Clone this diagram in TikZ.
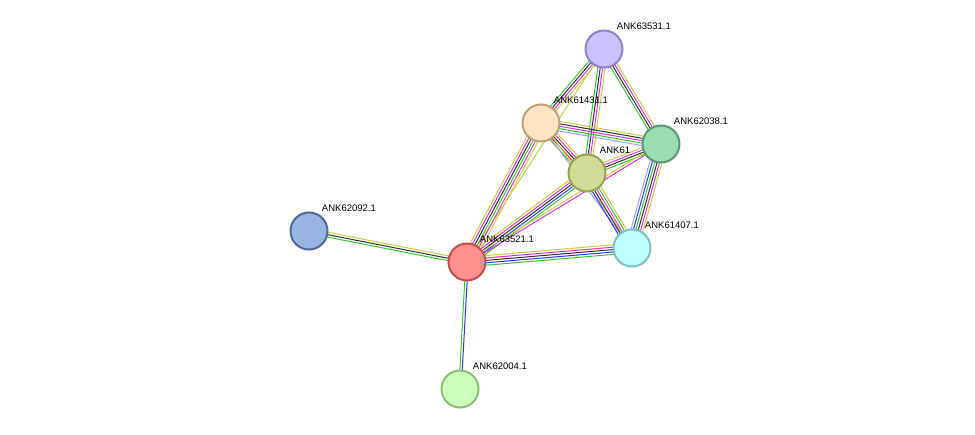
\documentclass[tikz,border=0pt]{standalone}
\usepackage{fontspec}
\setmainfont{Liberation Sans}
\usetikzlibrary{calc}

% multi-coloured edge: \edge{from}{to}{colour list}
\newcommand{\edge}[3]{%
    \foreach \c [count=\i] in {#3} {\xdef\nlines{\i}}%
    \foreach \c [count=\i] in {#3} {%
        \pgfmathsetmacro{\off}{(\i-(\nlines+1)/2)*2.4}%
        \draw[\c, line width=1pt] ($(#1)!\off pt!90:(#2)$) -- ($(#2)!\off pt!-90:(#1)$);
    }%
}

\begin{document}
\begin{tikzpicture}[
    x=1pt, y=-1pt,
    % Styles
    prot/.style={ % protein node
        circle,
        minimum size=37pt,
        inner sep=0pt,
        line width=2pt
    },
    lbl/.style={ % protein name
        font=\fontsize{9.5pt}{11pt}\selectfont,
        anchor=south west,
        inner sep=1pt
    }
]
    \definecolor{eg}{HTML}{33CC33}
    \definecolor{ek}{HTML}{333333}
    \definecolor{em}{HTML}{DD33DD}
    \definecolor{ey}{HTML}{C8D040}
    \definecolor{eb}{HTML}{3333FF}
    \definecolor{el}{HTML}{A0A0FF}
    \definecolor{er}{HTML}{FF2222}

    \useasboundingbox (0,0) rectangle (975,435);

    % Coordinates of the proteins
    \coordinate (p31) at (604,49);
    \coordinate (p1431) at (541,123);
    \coordinate (p38) at (661,144);
    \coordinate (p61) at (587,173);
    \coordinate (p07) at (632,248);
    \coordinate (p21) at (467,262);
    \coordinate (p92) at (309,231);
    \coordinate (p04) at (460,389);

    % Interaction edges
    \edge{p31}{p1431}{eg,ek,em,ey}
    \edge{p31}{p61}{eg,ek,em,ey}
    \edge{p31}{p38}{eg,ek,em,ey}
    \edge{p31}{p21}{ey}
    \edge{p1431}{p38}{el,eg,em,ek,ey}
    \edge{p1431}{p61}{eg,er,ek,em,ey}
    \edge{p1431}{p07}{el,ey}
    \edge{p1431}{p21}{ey,em,ek,eg,em,ey}
    \edge{p61}{p38}{eg,ek,em,ey}
    \edge{p61}{p07}{eb,ek,em,eg,ey}
    \edge{p61}{p21}{ey,em,ek,eb,eg}
    \edge{p38}{p07}{el,eb,eg,ek,em,ey}
    \edge{p38}{p21}{ey,em}
    \edge{p07}{p21}{ey,em,ek,eb,eg}
    \edge{p21}{p92}{ey,ek,eg}
    \edge{p21}{p04}{eg,eb}

    % Protein nodes
    \definecolor{c31}{HTML}{CCC0FF}\definecolor{d31}{HTML}{9080D0}
    \definecolor{c1431}{HTML}{FFE4C4}\definecolor{d1431}{HTML}{C0A070}
    \definecolor{c38}{HTML}{99DDB3}\definecolor{d38}{HTML}{5A9A70}
    \definecolor{c61}{HTML}{D0DC96}\definecolor{d61}{HTML}{9AA050}
    \definecolor{c07}{HTML}{C0FFFF}\definecolor{d07}{HTML}{80C0C0}
    \definecolor{c21}{HTML}{FF9090}\definecolor{d21}{HTML}{C05050}
    \definecolor{c92}{HTML}{98B4E0}\definecolor{d92}{HTML}{506A9A}
    \definecolor{c04}{HTML}{CCFFBB}\definecolor{d04}{HTML}{8AC070}
    \node[prot, draw=d31, fill=c31] (n31) at (p31) {};
    \node[prot, draw=d1431, fill=c1431] (n1431) at (p1431) {};
    \node[prot, draw=d38, fill=c38] (n38) at (p38) {};
    \node[prot, draw=d61, fill=c61] (n61) at (p61) {};
    \node[prot, draw=d07, fill=c07] (n07) at (p07) {};
    \node[prot, draw=d21, fill=c21] (n21) at (p21) {};
    \node[prot, draw=d92, fill=c92] (n92) at (p92) {};
    \node[prot, draw=d04, fill=c04] (n04) at (p04) {};

    % Labels
    \node[lbl] at ([xshift=-2pt,yshift=4pt]n31.north east) {ANK63531.1};
    \node[lbl] at ([xshift=-2pt,yshift=4pt]n1431.north east) {ANK61431.1};
    \node[lbl] at ([xshift=-2pt,yshift=4pt]n38.north east) {ANK62038.1};
    \node[lbl] at ([xshift=-2pt,yshift=4pt]n61.north east) {ANK61};
    \node[lbl] at ([xshift=-2pt,yshift=4pt]n07.north east) {ANK61407.1};
    \node[lbl] at ([xshift=-2pt,yshift=4pt]n21.north east) {ANK63521.1};
    \node[lbl] at ([xshift=-2pt,yshift=4pt]n92.north east) {ANK62092.1};
    \node[lbl] at ([xshift=-2pt,yshift=4pt]n04.north east) {ANK62004.1};
\end{tikzpicture}
\end{document}
